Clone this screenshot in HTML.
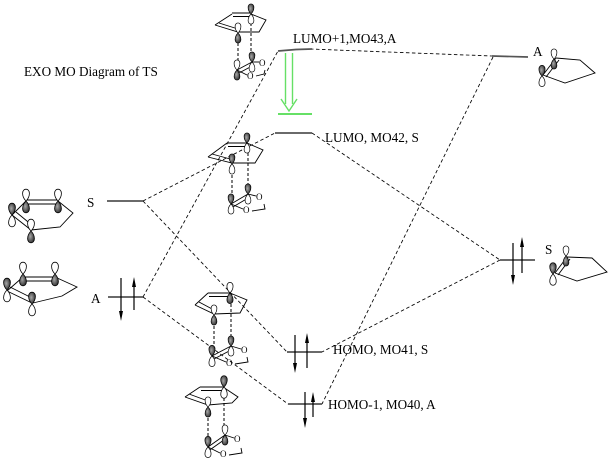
<!DOCTYPE html>
<html><head><meta charset="utf-8"><style>
html,body{margin:0;padding:0;background:#fff;}
svg{display:block;}
text{font-family:"Liberation Serif",serif;fill:#000;}
</style></head><body>
<svg width="612" height="462" viewBox="0 0 612 462" xmlns="http://www.w3.org/2000/svg">
<defs>
<radialGradient id="dk" cx="0.4" cy="0.45" r="0.6">
<stop offset="0" stop-color="#a8a8a8"/><stop offset="1" stop-color="#303030"/>
</radialGradient>
<path id="lt" d="M0,0 C-2,-2 -3.4,-5 -3.4,-7.8 C-3.4,-10.3 -1.8,-11.8 0,-11.8 C1.8,-11.8 3.4,-10.3 3.4,-7.8 C3.4,-5 2,-2 0,0Z"/>
<path id="lb" d="M0,0 C-2,2 -3.4,5 -3.4,7.8 C-3.4,10.3 -1.8,11.8 0,11.8 C1.8,11.8 3.4,10.3 3.4,7.8 C3.4,5 2,2 0,0Z"/>
<g id="U"><use href="#lt" fill="url(#dk)" stroke="#000" stroke-width=".8"/><use href="#lb" fill="#fff" stroke="#000" stroke-width=".8"/></g>
<g id="D"><use href="#lt" fill="#fff" stroke="#000" stroke-width=".8"/><use href="#lb" fill="url(#dk)" stroke="#000" stroke-width=".8"/></g>
</defs>
<rect width="612" height="462" fill="#fff"/>

<!-- title -->
<text x="24" y="76" font-size="13.2">EXO MO Diagram of TS</text>

<!-- dashed correlation lines -->
<g stroke="#000" stroke-width="0.85" stroke-dasharray="3.5,2.5" fill="none">
<line x1="143" y1="201" x2="275" y2="133"/>
<line x1="143" y1="201" x2="287" y2="352"/>
<line x1="143" y1="297" x2="278" y2="51"/>
<line x1="143" y1="297" x2="288" y2="404"/>
<line x1="310" y1="49" x2="492" y2="56"/>
<line x1="493" y1="57" x2="322" y2="404"/>
<line x1="312" y1="133" x2="500" y2="260"/>
<line x1="500" y1="260" x2="322" y2="352"/>
</g>

<!-- energy levels -->
<g stroke="#555" stroke-width="1.7" fill="none">
<line x1="107" y1="201" x2="143" y2="201"/>
<line x1="108" y1="297" x2="143" y2="297"/>
<polyline points="278,51 296,49.5 312,49"/>
<line x1="275" y1="133" x2="312" y2="133"/>
<line x1="287" y1="352" x2="322" y2="352"/>
<line x1="288" y1="404" x2="322" y2="404"/>
<line x1="492" y1="56" x2="528" y2="57"/>
<line x1="500" y1="260" x2="535" y2="260"/>
</g>

<!-- electron arrows -->
<g stroke="#000" stroke-width="1.2" fill="#000">
<line x1="121" y1="278" x2="121" y2="314"/><polygon points="119,311 123,311 121,321" stroke="none"/>
<line x1="134" y1="284" x2="134" y2="310"/><polygon points="132,287 136,287 134,277" stroke="none"/>
<line x1="513" y1="243" x2="513" y2="278"/><polygon points="511,275 515,275 513,285" stroke="none"/>
<line x1="522" y1="244" x2="522" y2="273"/><polygon points="520,247 524,247 522,237" stroke="none"/>
<line x1="295" y1="335" x2="295" y2="366"/><polygon points="293,363 297,363 295,373" stroke="none"/>
<line x1="307" y1="340" x2="307" y2="368"/><polygon points="305,343 309,343 307,333" stroke="none"/>
<line x1="305" y1="392" x2="305" y2="420"/><polygon points="303,418 307,418 305,428" stroke="none"/>
<line x1="313" y1="399" x2="313" y2="417"/><polygon points="311,402 315,402 313,392" stroke="none"/>
</g>

<!-- green arrow -->
<g stroke="#66e066" stroke-width="1.4" fill="none">
<line x1="285.5" y1="53" x2="285.5" y2="104"/>
<line x1="292.5" y1="53" x2="292.5" y2="104"/>
<polyline points="281,99 289,111 297,99"/>
<line x1="278" y1="114" x2="312" y2="114" stroke-width="2"/>
</g>

<!-- labels -->
<g font-size="13.2">
<text x="293" y="43">LUMO+1,MO43,A</text>
<text x="325" y="142">LUMO, MO42, S</text>
<text x="333" y="354">HOMO, MO41, S</text>
<text x="328" y="409">HOMO-1, MO40, A</text>
<text x="533" y="56">A</text>
<text x="545" y="254">S</text>
<text x="87" y="207">S</text>
<text x="91" y="303">A</text>
</g>

<!-- molecule bonds -->
<g stroke="#000" stroke-width="0.9" fill="none">
<!-- left S -->
<polyline points="12,215 26,201"/>
<line x1="26" y1="200" x2="58" y2="200"/><line x1="27" y1="204" x2="57" y2="204"/>
<polyline points="58,201 73,213 60,227 31,230"/>
<line x1="12" y1="215" x2="31" y2="230"/><line x1="16" y1="212" x2="33" y2="226"/>
<!-- left A -->
<polyline points="7,291 23,277"/>
<line x1="23" y1="277" x2="55" y2="277"/><line x1="24" y1="281" x2="55" y2="281"/>
<polyline points="55,277 77,287 62,296 33,303"/>
<line x1="7" y1="291" x2="32" y2="303"/><line x1="10" y1="287" x2="34" y2="299"/>
<!-- TS1 -->
<polyline points="215,25 232,14"/>
<line x1="232" y1="13" x2="251" y2="13"/><line x1="233" y1="16.5" x2="250" y2="16.5"/>
<polyline points="251,14 266,20 259,32 238,32 215,25"/>
<line x1="219" y1="23" x2="238" y2="29"/>
<line x1="237" y1="70" x2="252" y2="62"/><line x1="238" y1="73.5" x2="253" y2="65.5"/>
<line x1="252" y1="62" x2="259" y2="62"/><line x1="237" y1="70" x2="247" y2="75"/>
<polyline points="256,76 264,74 265,70"/>
<!-- TS2 -->
<polyline points="208,157 227,143"/>
<line x1="227" y1="143" x2="247" y2="143"/><line x1="228" y1="146.5" x2="246" y2="146.5"/>
<polyline points="247,143 263,150 255,163 232,163 208,157"/>
<line x1="212" y1="154" x2="232" y2="159.5"/>
<line x1="231" y1="204" x2="248" y2="194"/><line x1="232" y1="207.5" x2="249" y2="197.5"/>
<line x1="248" y1="194" x2="256" y2="196"/><line x1="231" y1="204" x2="243" y2="209"/>
<polyline points="252,211 265,209 264,204"/>
<!-- TS3 -->
<polyline points="195,305 208,293"/>
<line x1="208" y1="293" x2="230" y2="293"/><line x1="209" y1="296.5" x2="229" y2="296.5"/>
<polyline points="230,293 247,300 240,313 214,314 195,305"/>
<line x1="199" y1="302" x2="214" y2="310"/>
<line x1="212" y1="356" x2="231" y2="346"/><line x1="213" y1="359.5" x2="232" y2="349.5"/>
<line x1="231" y1="346" x2="241" y2="349"/><line x1="212" y1="356" x2="226" y2="362"/>
<polyline points="235,364 248,362 247,357"/>
<!-- TS4 -->
<polyline points="185,397 200,387"/>
<line x1="200" y1="387" x2="223" y2="387"/><line x1="201" y1="390.5" x2="222" y2="390.5"/>
<polyline points="223,387 238,397 232,403 208,405 185,397"/>
<line x1="189" y1="394" x2="208" y2="401"/>
<line x1="208" y1="447" x2="225" y2="435"/><line x1="209" y1="450.5" x2="226" y2="438.5"/>
<line x1="225" y1="435" x2="234" y2="438"/><line x1="208" y1="447" x2="220" y2="453"/>
<polyline points="229,455 242,453 241,448"/>
<!-- right A -->
<polyline points="556,58 580,60 595,73 565,83 543,75"/>
<line x1="556" y1="58" x2="543" y2="75"/><line x1="559" y1="60" x2="546" y2="77"/>
<!-- right S -->
<polyline points="567,257 592,258 607,272 577,281 555,273"/>
<line x1="567" y1="257" x2="555" y2="273"/><line x1="570" y1="259" x2="558" y2="275"/>
</g>

<!-- dashed bonding between diene and dienophile -->
<g stroke="#000" stroke-width="1" stroke-dasharray="3,2" fill="none">
<line x1="238" y1="43" x2="238" y2="61"/><line x1="251" y1="23" x2="251" y2="53"/>
<line x1="232" y1="175" x2="232" y2="194"/><line x1="248" y1="153" x2="248" y2="185"/>
<line x1="214" y1="326" x2="214" y2="346"/><line x1="231" y1="304" x2="231" y2="337"/>
<line x1="208" y1="418" x2="208" y2="438"/><line x1="224" y1="398" x2="224" y2="426"/>
</g>

<!-- lobes -->
<use href="#D" transform="translate(26,201)"/>
<use href="#D" transform="translate(58,201)"/>
<use href="#U" transform="translate(12,215)"/>
<use href="#D" transform="translate(31,231)"/>

<use href="#D" transform="translate(23,274)"/>
<use href="#D" transform="translate(55,274)"/>
<use href="#U" transform="translate(7,290)"/>
<use href="#U" transform="translate(32,304)"/>

<use href="#U" transform="translate(251,14) scale(.85)"/>
<use href="#D" transform="translate(238,33) scale(.85)"/>
<use href="#U" transform="translate(252,62) scale(.85)"/>
<use href="#D" transform="translate(237,70) scale(.85)"/>

<use href="#U" transform="translate(247,143) scale(.85)"/>
<use href="#U" transform="translate(232,164) scale(.85)"/>
<use href="#U" transform="translate(248,194) scale(.85)"/>
<use href="#U" transform="translate(231,204) scale(.85)"/>

<use href="#D" transform="translate(230,293) scale(.9)"/>
<use href="#D" transform="translate(214,315) scale(.85)"/>
<use href="#U" transform="translate(231,346) scale(.85)"/>
<use href="#U" transform="translate(212,356) scale(.9)"/>

<use href="#U" transform="translate(224,387) scale(.95)"/>
<use href="#D" transform="translate(208,407) scale(.85)"/>
<use href="#D" transform="translate(225,435) scale(.85)"/>
<use href="#U" transform="translate(208,447) scale(.9)"/>

<use href="#D" transform="translate(554,59) scale(.85)"/>
<use href="#U" transform="translate(542,76) scale(.9)"/>
<use href="#D" transform="translate(566,256) scale(.85)"/>
<use href="#U" transform="translate(553,274) scale(.95)"/>

<!-- oxygen labels -->
<g font-size="9">
<text x="259" y="66">O</text><text x="247" y="79">O</text>
<text x="256" y="200">O</text><text x="243" y="213">O</text>
<text x="241" y="353">O</text><text x="226" y="366">O</text>
<text x="234" y="442">O</text><text x="220" y="457">O</text>
</g>
</svg>
</body></html>
